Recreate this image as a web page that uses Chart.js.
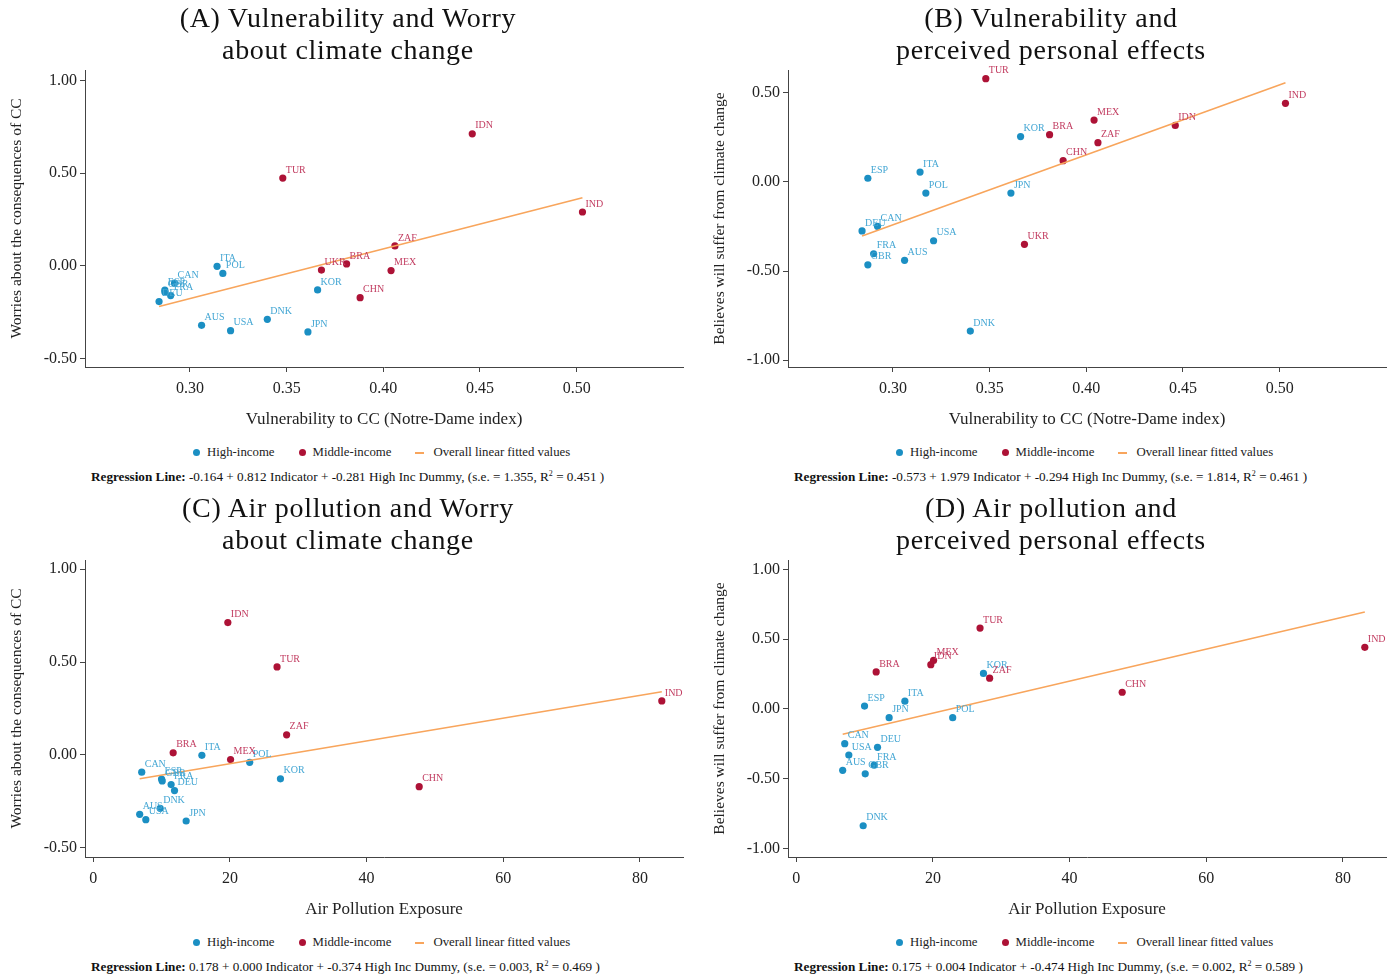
<!DOCTYPE html>
<html>
<head>
<meta charset="utf-8">
<script src="https://cdn.jsdelivr.net/npm/chart.js@4.4.1/dist/chart.umd.min.js"></script>
<style>
  body { margin: 0; background: #fff; font-family: 'Liberation Serif', serif; }
  .panel { position: absolute; width: 700px; height: 490px; }
  .panel canvas { position: absolute; left: 0; top: 0; }
  .title { position: absolute; left: 0; width: 696px; top: 2px; text-align: center; font-size: 28px; letter-spacing: 0.7px; line-height: 32px; color: #111; }
  .legend { position: absolute; top: 445px; left: 193px; display: flex; align-items: center; font-size: 12.8px; color: #222; white-space: nowrap; }
  .legend .dot { width: 7px; height: 7px; border-radius: 50%; display: inline-block; margin-right: 7px; }
  .legend .dash { width: 9px; height: 2px; display: inline-block; margin-right: 9px; background: #f8a55c; }
  .legend .item { display: flex; align-items: center; margin-right: 24px; }
  .reg { position: absolute; top: 469px; left: 91px; font-size: 13.2px; color: #111; white-space: nowrap; }
  .reg sup { font-size: 8px; }
</style>
</head>
<body>
<div class="panel" id="pA" style="left:0;top:0"></div>
<div class="panel" id="pB" style="left:703px;top:0"></div>
<div class="panel" id="pC" style="left:0;top:490px"></div>
<div class="panel" id="pD" style="left:703px;top:490px"></div>
<script>
// country data
const countries = ["AUS","CAN","DEU","DNK","ESP","FRA","GBR","ITA","JPN","KOR","POL","USA",
                   "BRA","CHN","IDN","IND","MEX","TUR","UKR","ZAF"];
const incomeGroup = ["H","H","H","H","H","H","H","H","H","H","H","H",
                     "M","M","M","M","M","M","M","M"];
const vulnerability = [0.306,0.292,0.284,0.340,0.287,0.290,0.287,0.314,0.361,0.366,0.317,0.321,
                       0.381,0.388,0.446,0.503,0.404,0.348,0.368,0.406];
const pollution = [6.8,7.1,11.9,9.8,10.0,11.4,10.1,15.9,13.6,27.4,22.9,7.7,
                   11.7,47.7,19.7,83.2,20.1,26.9,null,28.3];
const worry = [-0.320,-0.093,-0.192,-0.288,-0.130,-0.160,-0.140,-0.002,-0.356,-0.129,-0.040,-0.349,
               0.011,-0.171,0.713,0.291,-0.025,0.474,-0.022,0.108];
const personalEffect = [-0.440,-0.249,-0.275,-0.837,0.021,-0.403,-0.465,0.056,-0.062,0.255,-0.062,-0.330,
                        0.266,0.120,0.318,0.442,0.348,0.580,-0.350,0.221];

// fitted line end points
const fitA = { x: [0.284, 0.503], y: [-0.219, 0.368] };
const fitB = { x: [0.284, 0.503], y: [-0.303, 0.558] };
const fitC = { x: [6.8, 83.2], y: [-0.128, 0.340] };
const fitD = { x: [6.8, 83.2], y: [-0.181, 0.695] };

const vulnTicks = [0.30, 0.35, 0.40, 0.45, 0.50];
const pollTicks = [0, 20, 40, 60, 80];
const worryTicks = [-0.5, 0, 0.5, 1.0];
const effectTicksB = [-1.0, -0.5, 0, 0.5];
const effectTicksD = [-1.0, -0.5, 0, 0.5, 1.0];

const BLUE = "#1b8fc3", RED = "#ad1236", ORANGE = "#f8a55c";
const BLUE_TXT = "#45a7d4", RED_TXT = "#c23d61";

Chart.defaults.font.family = "'Liberation Serif', serif";
Chart.defaults.color = "#222";

const pointLabels = {
  id: "pointLabels",
  afterDatasetsDraw(chart) {
    const ctx = chart.ctx;
    ctx.save();
    ctx.font = "10px 'Liberation Serif', serif";
    ctx.textBaseline = "middle";
    chart.data.datasets.forEach((ds, i) => {
      if (!ds.names) return;
      ctx.fillStyle = ds.labelColor;
      chart.getDatasetMeta(i).data.forEach((el, j) => {
        ctx.fillText(ds.names[j], el.x + 3, el.y - 8);
      });
    });
    ctx.restore();
  }
};

function group(xs, ys, g) {
  const pts = [], names = [];
  countries.forEach((c, i) => {
    if (incomeGroup[i] !== g || xs[i] == null || ys[i] == null) return;
    pts.push({ x: xs[i], y: ys[i] });
    names.push(c);
  });
  return { pts, names };
}

function makePanel(id, cfg) {
  const panel = document.getElementById(id);
  panel.innerHTML =
    '<canvas width="700" height="440"></canvas>' +
    '<div class="title">' + cfg.title[0] + '<br>' + cfg.title[1] + '</div>' +
    '<div class="legend">' +
      '<span class="item"><span class="dot" style="background:' + BLUE + '"></span>High-income</span>' +
      '<span class="item"><span class="dot" style="background:' + RED + '"></span>Middle-income</span>' +
      '<span class="item"><span class="dash"></span>Overall linear fitted values</span>' +
    '</div>' +
    '<div class="reg"><b>Regression Line:</b> ' + cfg.reg + ' R<sup>2</sup> = ' + cfg.r2 + ' )</div>';
  const hi = group(cfg.xs, cfg.ys, "H");
  const mid = group(cfg.xs, cfg.ys, "M");
  new Chart(panel.querySelector("canvas"), {
    type: "scatter",
    data: {
      datasets: [
        { label: "High-income", data: hi.pts, names: hi.names, labelColor: BLUE_TXT,
          backgroundColor: BLUE, borderColor: BLUE, pointRadius: 3.6, borderWidth: 0, order: 2 },
        { label: "Middle-income", data: mid.pts, names: mid.names, labelColor: RED_TXT,
          backgroundColor: RED, borderColor: RED, pointRadius: 3.6, borderWidth: 0, order: 1 },
        { label: "Overall linear fitted values", type: "line",
          data: cfg.fit.x.map((x, i) => ({ x, y: cfg.fit.y[i] })),
          borderColor: ORANGE, borderWidth: 1.6, pointRadius: 0, fill: false, order: 0 }
      ]
    },
    options: {
      responsive: false,
      animation: false,
      devicePixelRatio: 1,
      layout: { padding: { left: 0, right: 17, top: 70, bottom: 0 } },
      plugins: { legend: { display: false }, tooltip: { enabled: false } },
      scales: {
        x: {
          type: "linear", min: cfg.xmin, max: cfg.xmax,
          afterFit: s => { s.height = 73; },
          afterBuildTicks: s => { s.ticks = cfg.xticks.map(v => ({ value: v })); },
          grid: { drawOnChartArea: false, tickLength: 5, color: "#444" },
          border: { color: "#444", width: 1 },
          ticks: { padding: 7, font: { size: 16 }, color: "#222", maxRotation: 0,
                   callback: v => cfg.xfmt(v) },
          title: { display: true, text: cfg.xtitle, font: { size: 17 }, color: "#222",
                   padding: { top: 11, bottom: 10 } }
        },
        y: {
          type: "linear", min: cfg.ymin, max: cfg.ymax,
          afterFit: s => { s.width = 85; },
          afterBuildTicks: s => { s.ticks = cfg.yticks.map(v => ({ value: v })); },
          grid: { drawOnChartArea: false, tickLength: 5, color: "#444" },
          border: { color: "#444", width: 1 },
          ticks: { padding: 3, font: { size: 16 }, color: "#222", callback: v => v.toFixed(2) },
          title: { display: true, text: cfg.ytitle, font: { size: 15.5 }, color: "#222",
                   padding: { top: 8, bottom: 8 } }
        }
      }
    },
    plugins: [pointLabels]
  });
}

makePanel("pA", {
  title: ["(A) Vulnerability and Worry", "about climate change"],
  xs: vulnerability, ys: worry, fit: fitA,
  xmin: 0.2457, xmax: 0.555, ymin: -0.545, ymax: 1.057,
  xticks: vulnTicks, yticks: worryTicks, xfmt: v => v.toFixed(2),
  xtitle: "Vulnerability to CC (Notre-Dame index)", ytitle: "Worries about the consequences of CC",
  reg: "-0.164 + 0.812 Indicator + -0.281 High Inc Dummy, (s.e. = 1.355,", r2: "0.451"
});
makePanel("pB", {
  title: ["(B) Vulnerability and", "perceived personal effects"],
  xs: vulnerability, ys: personalEffect, fit: fitB,
  xmin: 0.2457, xmax: 0.555, ymin: -1.039, ymax: 0.629,
  xticks: vulnTicks, yticks: effectTicksB, xfmt: v => v.toFixed(2),
  xtitle: "Vulnerability to CC (Notre-Dame index)", ytitle: "Believes will suffer from climate change",
  reg: "-0.573 + 1.979 Indicator + -0.294 High Inc Dummy, (s.e. = 1.814,", r2: "0.461"
});
makePanel("pC", {
  title: ["(C) Air pollution and Worry", "about climate change"],
  xs: pollution, ys: worry, fit: fitC,
  xmin: -1.2, xmax: 86.3, ymin: -0.55, ymax: 1.05,
  xticks: pollTicks, yticks: worryTicks, xfmt: v => String(v),
  xtitle: "Air Pollution Exposure", ytitle: "Worries about the consequences of CC",
  reg: "0.178 + 0.000 Indicator + -0.374 High Inc Dummy, (s.e. = 0.003,", r2: "0.469"
});
makePanel("pD", {
  title: ["(D) Air pollution and", "perceived personal effects"],
  xs: pollution, ys: personalEffect, fit: fitD,
  xmin: -1.2, xmax: 86.3, ymin: -1.061, ymax: 1.068,
  xticks: pollTicks, yticks: effectTicksD, xfmt: v => String(v),
  xtitle: "Air Pollution Exposure", ytitle: "Believes will suffer from climate change",
  reg: "0.175 + 0.004 Indicator + -0.474 High Inc Dummy, (s.e. = 0.002,", r2: "0.589"
});
</script>
</body>
</html>
